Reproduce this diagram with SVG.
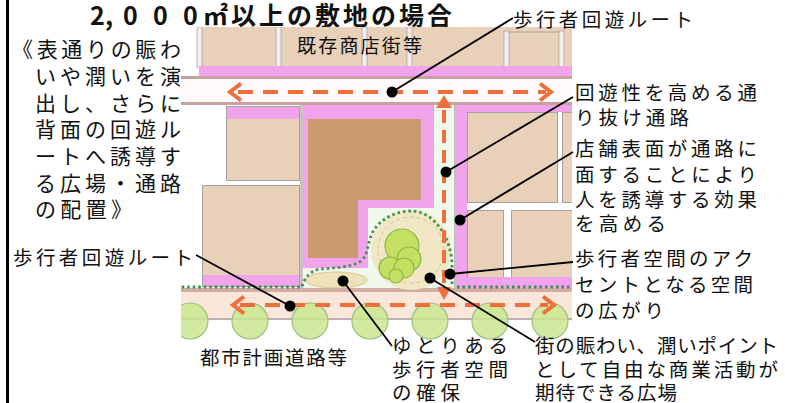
<svg xmlns="http://www.w3.org/2000/svg" width="785" height="403" viewBox="0 0 785 403">
  <style>
    text { font-family: "Noto Sans CJK JP", "Noto Sans CJK SC", sans-serif; fill: #111; }
    .lbl { font-size: 19.5px; }
    .side { font-size: 21px; }
    .title { font-size: 25px; font-weight: 700; }
    .tan { fill: #e9d0b8; stroke: #a8a0a0; stroke-width: 1; }
    .pink { fill: #f1a4ec; }
    .edge { fill: #c9a0a0; }
    .sep { fill: #f3efee; stroke: #aaa2a2; stroke-width: 0.8; }
    .tree { fill: #c9e68e; fill-opacity: 0.85; stroke: #9cbf84; stroke-width: 1.2; }
    .ptree { fill: #c4e063; stroke: #8fb448; stroke-width: 1.2; }
    .route { fill: none; stroke: #ef6e3c; stroke-width: 4; stroke-dasharray: 15 10; }
    .head { fill: none; stroke: #ef6e3c; stroke-width: 4; stroke-linejoin: miter; }
    .green { fill: none; stroke: #3f8f4f; stroke-width: 2.8; stroke-dasharray: 2.5 3; }
    .leader { stroke: #000; stroke-width: 1.8; fill: none; }
    .dot { fill: #000; }
  </style>
  <defs>
    <clipPath id="mapClip">
      <rect x="181" y="27" width="391" height="313"/>
    </clipPath>
  </defs>

  <rect width="785" height="403" fill="#fff"/>

  <!-- frame edge -->
  <line x1="7.5" y1="0" x2="7.5" y2="403" stroke="#000" stroke-width="3"/>

  <!-- title -->
  <g id="title">
    <text class="title" x="90 105 123 153 183" y="25">2,000</text>
    <text class="title" x="203" y="25" textLength="249" lengthAdjust="spacing">㎡以上の敷地の場合</text>
  </g>

  <!-- site plan -->
  <g id="map" clip-path="url(#mapClip)">
    <!-- existing shopping street row -->
    <rect x="199" y="27" width="373" height="40" fill="#e9d0b8"/>
    <rect x="197" y="27" width="5" height="40" class="sep"/>
    <rect x="276" y="27" width="5" height="40" class="sep"/>
    <rect x="362" y="27" width="5" height="40" class="sep"/>
    <rect x="407" y="27" width="5" height="40" class="sep"/>
    <rect x="504" y="31" width="5" height="36" class="sep"/>
    <rect x="559" y="31" width="5" height="36" class="sep"/>
    <line x1="509" y1="32" x2="559" y2="32" stroke="#aaa2a2" stroke-width="1"/>
    <rect x="199" y="66" width="373" height="10" class="pink"/>

    <!-- street -->
    <rect x="181" y="76" width="391" height="29" fill="#fffafa"/>
    <rect x="181" y="76" width="391" height="3" class="edge"/>
    <rect x="181" y="102" width="391" height="3" class="edge"/>

    <!-- left blocks -->
    <rect x="226.5" y="106.5" width="73" height="74" class="tan"/>
    <rect x="227" y="107" width="72" height="12" class="pink"/>
    <rect x="202.5" y="185.5" width="97" height="101" class="tan"/>
    <rect x="203" y="275" width="96" height="11" class="pink"/>
    <line x1="301.5" y1="105" x2="301.5" y2="288" stroke="#c8c2c2" stroke-width="3"/>

    <!-- central building with its frontage -->
    <polygon class="pink" points="303,105 433,105 433,208 368,208 368,268 303,268"/>
    <polygon fill="#cb9a6e" points="308,119 421,119 421,200 358,200 358,258 308,258"/>

    <!-- plaza and through passage -->
    <polygon fill="#f1f8ec" points="368,208 433,208 433,105 455,105 455,288 303,288 303,268 368,268"/>
    <line x1="433.5" y1="105" x2="433.5" y2="208" stroke="#b8c2b8" stroke-width="1"/>
    <line x1="454.5" y1="105" x2="454.5" y2="288" stroke="#b8c2b8" stroke-width="1"/>

    <!-- right blocks -->
    <rect x="455" y="105" width="117" height="7" class="pink"/>
    <rect x="455" y="105" width="12" height="183" class="pink"/>
    <rect x="467.5" y="112.5" width="90" height="90" class="tan"/>
    <rect x="562.5" y="112.5" width="12" height="90" class="tan"/>
    <rect x="467.5" y="210.5" width="36" height="67" class="tan"/>
    <rect x="511.5" y="210.5" width="63" height="67" class="tan"/>
    <rect x="467" y="277" width="105" height="11" class="pink"/>

    <!-- sidewalk along the city road -->
    <rect x="181" y="288" width="391" height="4" fill="#d3aca2"/>
    <rect x="181" y="292" width="391" height="26" fill="#fbe6da"/>
    <rect x="181" y="318" width="391" height="2" fill="#bdb3b3"/>
    <g>
      <circle class="tree" cx="190" cy="321" r="18"/>
      <circle class="tree" cx="250" cy="321" r="18"/>
      <circle class="tree" cx="310" cy="321" r="18"/>
      <circle class="tree" cx="370" cy="321" r="18"/>
      <circle class="tree" cx="430" cy="321" r="18"/>
      <circle class="tree" cx="490" cy="321" r="18"/>
      <circle class="tree" cx="550" cy="321" r="18"/>
    </g>

    <!-- open spaces -->
    <ellipse cx="336" cy="280" rx="31" ry="8" fill="#efe2b8" stroke="#d9c993" stroke-width="1"/>
    <circle cx="411" cy="250" r="40" fill="#f1e7c4"/>
    <circle cx="411" cy="250" r="33" fill="none" stroke="#c9c6a8" stroke-width="1" stroke-dasharray="4 3"/>
    <g>
      <circle class="ptree" cx="402" cy="246" r="17"/>
      <circle class="ptree" cx="409" cy="259" r="12"/>
      <circle class="ptree" cx="390" cy="268" r="11"/>
      <circle class="ptree" cx="404" cy="268" r="10"/>
      <circle class="ptree" cx="396" cy="276" r="7"/>
    </g>

    <!-- green edge of the pedestrian space -->
    <path class="green" d="M452,284 L452,266 C452,238 434,211 411,211 C393,211 376,222 371,236 C367,246 368,255 361,261 C353,267 335,268 320,269 C310,271 304,278 302,287 L181,287"/>
    <path class="green" d="M457,287 L572,287"/>

    <!-- circulation routes -->
    <line class="route" x1="238" y1="92" x2="546" y2="92"/>
    <polyline class="head" points="241,83.5 230,92 241,100.5"/>
    <polyline class="head" points="540,83.5 551,92 540,100.5"/>
    <line class="route" x1="240" y1="305" x2="548" y2="305"/>
    <polyline class="head" points="244,296.5 233,305 244,313.5"/>
    <polyline class="head" points="543,296.5 554,305 543,313.5"/>
    <line class="route" x1="444" y1="110" x2="444" y2="287" style="stroke-dasharray:13 7"/>
    <polygon fill="#ef6e3c" points="436,108 444,95 452,108"/>
    <polygon fill="#ef6e3c" points="437,287 444,300 451,287"/>

    <text class="lbl" x="297" y="53" textLength="125" lengthAdjust="spacing" style="font-size:19px">既存商店街等</text>
  </g>

  <!-- explanatory block -->
  <g id="purpose">
    <text class="side" x="12" y="57" textLength="169" lengthAdjust="spacing">《表通りの賑わ</text>
    <text class="side" x="35" y="84" textLength="146" lengthAdjust="spacing">いや潤いを演</text>
    <text class="side" x="35" y="110.5" textLength="146" lengthAdjust="spacing">出し、さらに</text>
    <text class="side" x="35" y="137" textLength="146" lengthAdjust="spacing">背面の回遊ル</text>
    <text class="side" x="35" y="164" textLength="146" lengthAdjust="spacing">ートへ誘導す</text>
    <text class="side" x="35" y="190.5" textLength="146" lengthAdjust="spacing">る広場・通路</text>
    <text class="side" x="35" y="217" textLength="97" lengthAdjust="spacing">の配置》</text>
  </g>

  <!-- labels -->
  <g id="label-route-top">
    <text class="lbl" x="513" y="27" textLength="180" lengthAdjust="spacing">歩行者回遊ルート</text>
  </g>
  <g id="label-passage">
    <text class="lbl" x="575" y="100" textLength="182" lengthAdjust="spacing">回遊性を高める通</text>
    <text class="lbl" x="575" y="125" textLength="114" lengthAdjust="spacing">り抜け通路</text>
  </g>
  <g id="label-frontage">
    <text class="lbl" x="575" y="156" textLength="182" lengthAdjust="spacing">店舗表面が通路に</text>
    <text class="lbl" x="575" y="182" textLength="182" lengthAdjust="spacing">面することにより</text>
    <text class="lbl" x="575" y="207" textLength="182" lengthAdjust="spacing">人を誘導する効果</text>
    <text class="lbl" x="575" y="231" textLength="91" lengthAdjust="spacing">を高める</text>
  </g>
  <g id="label-accent">
    <text class="lbl" x="575" y="266" textLength="178" lengthAdjust="spacing">歩行者空間のアク</text>
    <text class="lbl" x="575" y="292" textLength="178" lengthAdjust="spacing">セントとなる空間</text>
    <text class="lbl" x="575" y="318" textLength="89" lengthAdjust="spacing">の広がり</text>
  </g>
  <g id="label-route-left">
    <text class="lbl" x="13" y="265" textLength="180" lengthAdjust="spacing">歩行者回遊ルート</text>
  </g>
  <g id="label-road">
    <text class="lbl" x="200" y="365" textLength="147" lengthAdjust="spacing">都市計画道路等</text>
  </g>
  <g id="label-space">
    <text class="lbl" x="392" y="353" textLength="116" lengthAdjust="spacing">ゆとりある</text>
    <text class="lbl" x="392" y="377" textLength="116" lengthAdjust="spacing">歩行者空間</text>
    <text class="lbl" x="392" y="400" textLength="68" lengthAdjust="spacing">の確保</text>
  </g>
  <g id="label-plaza">
    <text class="lbl" x="535" y="353" textLength="243" lengthAdjust="spacing">街の賑わい、潤いポイント</text>
    <text class="lbl" x="535" y="377" textLength="243" lengthAdjust="spacing">として自由な商業活動が</text>
    <text class="lbl" x="535" y="400" textLength="142" lengthAdjust="spacing">期待できる広場</text>
  </g>

  <!-- leader lines -->
  <g id="connectors">
    <line class="leader" x1="513" y1="18" x2="392" y2="92"/>
    <circle class="dot" cx="392" cy="92" r="5.5"/>
    <line class="leader" x1="573" y1="97" x2="446" y2="172"/>
    <circle class="dot" cx="446" cy="172" r="5.5"/>
    <line class="leader" x1="573" y1="152" x2="460" y2="220"/>
    <circle class="dot" cx="460" cy="220" r="5.5"/>
    <line class="leader" x1="573" y1="262" x2="450" y2="274"/>
    <circle class="dot" cx="450" cy="274" r="5.5"/>
    <line class="leader" x1="535" y1="342" x2="430" y2="278"/>
    <circle class="dot" cx="430" cy="278" r="5.5"/>
    <line class="leader" x1="392" y1="346" x2="343" y2="281"/>
    <circle class="dot" cx="343" cy="281" r="5.5"/>
    <line class="leader" x1="196" y1="255" x2="290" y2="306"/>
    <circle class="dot" cx="290" cy="306" r="5.5"/>
  </g>
</svg>
